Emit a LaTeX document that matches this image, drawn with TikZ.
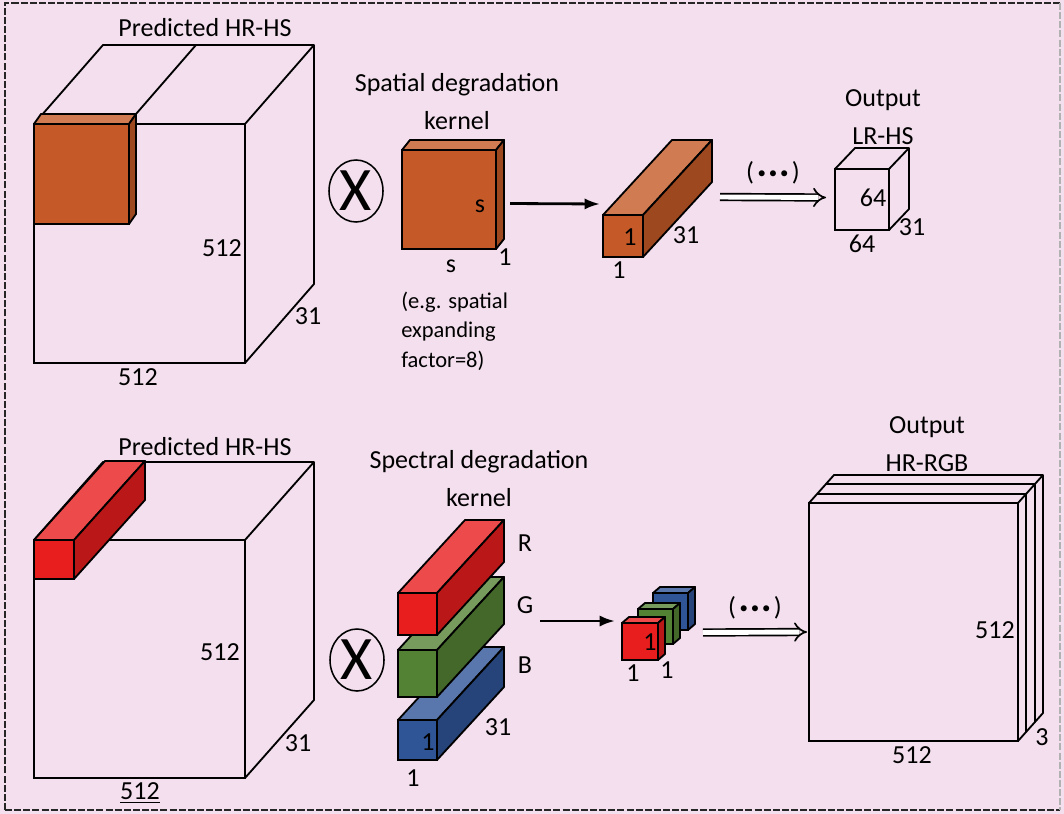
\documentclass[tikz,border=0pt]{standalone}
\usepackage{fontspec}
\setmainfont{Carlito}
\usetikzlibrary{arrows.meta, calc, shapes.geometric}

\definecolor{bgpink}{RGB}{243,223,237}
\definecolor{kernorange}{RGB}{197,90,40}
\definecolor{kernred}{RGB}{232,30,30}
\definecolor{kerngreen}{RGB}{84,130,53}
\definecolor{kernblue}{RGB}{47,85,151}

% one pixel of the layout
\newcommand{\px}{0.025cm}
% the dots over the hollow arrows
\newcommand{\dotmark}{\raisebox{1pt}{\fontsize{12}{12}\selectfont•}}
\newcommand{\etc}{(\kern2.5pt\dotmark\kern2pt\dotmark\kern2pt\dotmark\kern2.5pt)}

% coloured box: name, front corner, width, height, depth, colour
\newcommand{\kbox}[6]{%
  \node[face, fill=#6, minimum width=#3*\px, minimum height=#4*\px] (#1) at #2 {};
  \draw[cube, fill=#6!80!white] (#1.north west) -- ++#5 -- ($(#1.north east)+#5$) -- (#1.north east) -- cycle;
  \draw[cube, fill=#6!80!black] (#1.north east) -- ++#5 -- ($(#1.south east)+#5$) -- (#1.south east) -- cycle;
}

\begin{document}
\begin{tikzpicture}[
    x=0.025cm, y=-0.025cm,
    every node/.style={font=\fontsize{18.5}{22}\selectfont, inner sep=0pt},
    face/.style={draw, line width=1.3pt, inner sep=0pt, outer sep=0pt, anchor=north west},
    cube/.style={line width=1.3pt, line join=round},
    title/.style={align=center, font=\fontsize{18.5}{27}\selectfont},
    note/.style={align=left, anchor=west, font=\fontsize{16}{21}\selectfont},
    times/.style={ellipse, draw, line width=1.1pt, minimum width=54*\px, minimum height=62*\px, font=\fontsize{44}{44}\selectfont},
    flow/.style={-{Latex[length=11pt, width=8pt]}, line width=2pt},
    hollow/.style={double, double distance=3.5pt, line width=1.2pt, -{Implies}},
    frame/.style={line width=1.8pt, dash pattern=on 5pt off 1.5pt, black!85}
]
\useasboundingbox (0,0) rectangle (1064,814);
\fill[bgpink] (0,0) rectangle (1064,814);
\draw[frame] (5,810) -- (5,3) -- (1060,3);
\draw[frame] (5,810) -- (1060,810);
\draw[frame, black!30] (1060,3) -- (1060,810);

% spatial part
\node[face, minimum width=211*\px, minimum height=239*\px] (hs1) at (34,124) {};
\draw[cube] (hs1.north west) -- ++(69,-79) -- ($(hs1.north east)+(69,-79)$) -- ($(hs1.south east)+(69,-79)$) -- (hs1.south east);
\draw[cube] (hs1.north east) -- ++(69,-79);
\kbox{patch}{(34,124)}{95}{100}{(7,-10)}{kernorange}
\draw[cube] ($(patch.north east)+(7,-10)$) -- ++(60,-69);
\node (hs1name) at (205,28) {Predicted HR-HS};
\node (hs1h) at (222,248) {512};
\node (hs1w) at (138,377) {512};
\node (hs1d) at (308,316) {31};

\node[times] (mul1) at (356,191) {X};

\kbox{kern}{(402,150)}{94}{99}{(8,-10)}{kernorange}
\node[title] (kernname) at (457,102) {Spatial degradation\\kernel};
\node (kernh) at (480,206) {s};
\node (kernw) at (451,266) {s};
\node (kernd) at (505,257) {1};
\node[note] (kernnote) at (401,331) {(e.g. spatial\\expanding\\factor=8)};

\kbox{pix}{(603,215)}{40}{42}{(69,-75)}{kernorange}
\node (pixh) at (630,237) {1};
\node (pixw) at (619,270) {1};
\node (pixd) at (686,235) {31};

\node[face, minimum width=54*\px, minimum height=61*\px] (lr) at (835,169) {};
\draw[cube] (lr.north west) -- ++(20,-21) -- ($(lr.north east)+(20,-21)$) -- ($(lr.south east)+(20,-21)$) -- (lr.south east);
\draw[cube] (lr.north east) -- ++(20,-21);
\node[title] (lrname) at (883,117) {Output\\LR-HS};
\node (lrh) at (873,198) {64};
\node (lrw) at (862,244) {64};
\node (lrd) at (912,227) {31};

\draw[flow] ($(kern.east)+(14,4)$) -- ($(pix.north west)+(-3,-11)$);
\draw[hollow] ($(pix.north east)+(77,-18)$) -- node[above=9pt] {\etc} ($(lr.west)+(-9,-2)$);

% spectral part
\node[face, minimum width=211*\px, minimum height=238*\px] (hs2) at (34,540) {};
\draw[cube] (hs2.north west) -- ++(69,-78) -- ($(hs2.north east)+(69,-78)$) -- ($(hs2.south east)+(69,-78)$) -- (hs2.south east);
\draw[cube] (hs2.north east) -- ++(69,-78);
\kbox{spec}{(34,540)}{40}{39}{(71,-79)}{kernred}
\node (hs2name) at (205,447) {Predicted HR-HS};
\node (hs2h) at (220,652) {512};
\node (hs2w) at (140,793) {\underline{512}};
\node (hs2d) at (298,743) {31};

\node[times] (mul2) at (357,660) {X};

\kbox{kb}{(398,720)}{39}{40}{(67,-73)}{kernblue}
\kbox{kg}{(398,650)}{39}{47}{(67,-73)}{kerngreen}
\kbox{kr}{(398,593)}{39}{42}{(67,-73)}{kernred}
\node[title] (specname) at (479,479) {Spectral degradation\\kernel};
\node (lblR) at (525,543) {R};
\node (lblG) at (525,605) {G};
\node (lblB) at (525,665) {B};
\node (kbh) at (428,742) {1};
\node (kbw) at (413,778) {1};
\node (kbd) at (498,727) {31};

\kbox{cb}{(653,593)}{35}{37}{(7,-6)}{kernblue}
\kbox{cg}{(638,609)}{35}{35}{(7,-6)}{kerngreen}
\kbox{cr}{(622,623)}{36}{37}{(7,-6)}{kernred}
\node (crh) at (650,642) {1};
\node (crw) at (633,673) {1};
\node (crd) at (667,670) {1};

\node[face, minimum width=209*\px, minimum height=238*\px] (rgb) at (809,503) {};
\draw[cube] (rgb.north west) -- ++(25,-28) -- ($(rgb.north east)+(25,-28)$) -- ($(rgb.south east)+(25,-28)$) -- (rgb.south east);
\draw[cube] (rgb.north east) -- ++(25,-28);
\foreach \t in {1,2} {
  \draw[cube] ($(rgb.north west)+(\t*25/3,-\t*28/3)$) -- ($(rgb.north east)+(\t*25/3,-\t*28/3)$) -- ($(rgb.south east)+(\t*25/3,-\t*28/3)$);
}
\node[title] (rgbname) at (927,444) {Output\\HR-RGB};
\node (rgbh) at (995,630) {512};
\node (rgbw) at (912,755) {512};
\node (rgbd) at (1042,737) {3};

\draw[flow] ($(kg.north east)+(103,-29)$) -- ($(cr.north west)+(-7,-2)$);
\draw[hollow] ($(cr.east)+(45,-9)$) -- node[above=9pt] {\etc} ($(rgb.west)+(-2,10)$);
\end{tikzpicture}
\end{document}
